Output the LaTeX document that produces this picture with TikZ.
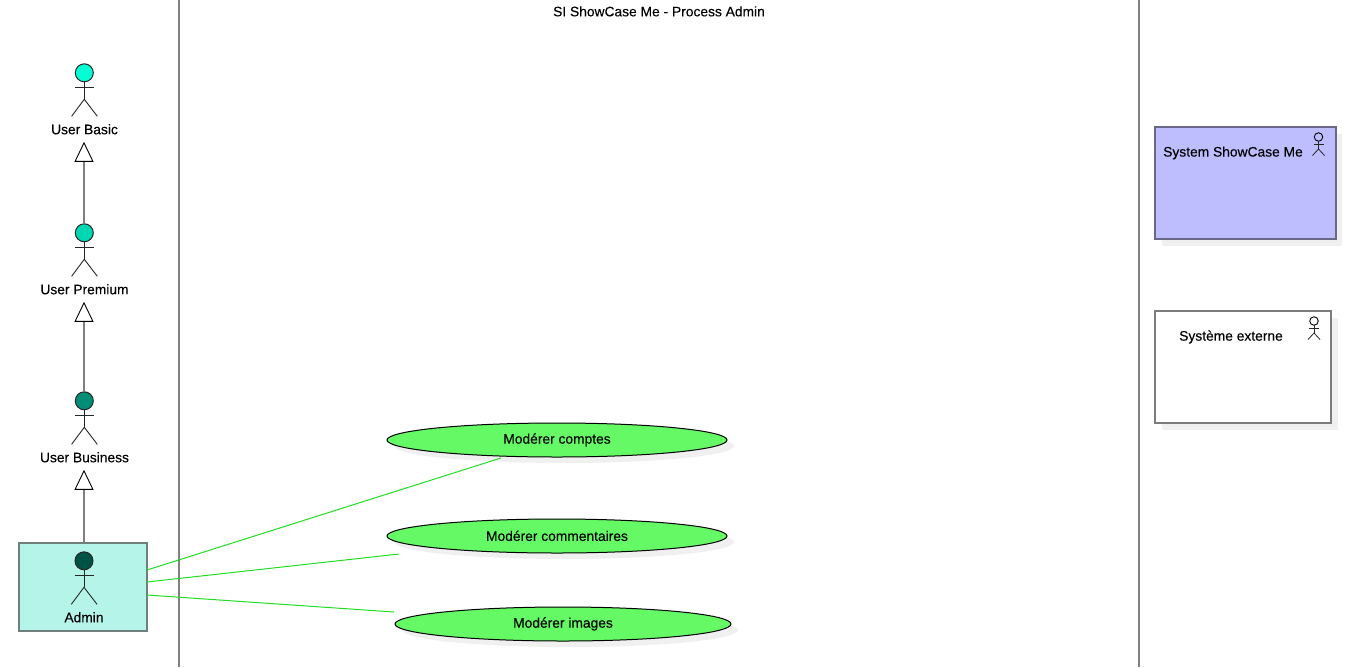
\documentclass[tikz,border=0pt]{standalone}
\usepackage{fontspec}
\setmainfont[FakeBold=0.15]{Liberation Sans}
\usetikzlibrary{arrows.meta,shapes.geometric}
\definecolor{laneC}{HTML}{808080}
\definecolor{shadowC}{HTML}{F0F0F0}
\definecolor{greenC}{HTML}{66F966}
\definecolor{lineG}{HTML}{22DD22}
\definecolor{adminBorder}{RGB}{111,127,123}
\definecolor{adminFill}{RGB}{181,245,233}
\definecolor{basicC}{RGB}{0,255,213}
\definecolor{premiumC}{RGB}{0,214,178}
\definecolor{businessC}{RGB}{0,140,117}
\definecolor{adminC}{RGB}{0,82,68}
\definecolor{sysBorder}{RGB}{105,105,135}
\definecolor{sysFill}{RGB}{190,190,255}
\definecolor{extBorder}{RGB}{125,125,125}
\tikzset{
  lane/.style={draw=laneC,line width=1.6pt},
  label/.style={font=\fontsize{13.8}{15}\selectfont,text=black,inner sep=0pt,align=center},
  head/.style={circle,draw=black!85,line width=1pt,minimum size=18pt,inner sep=0pt},
  limb/.style={draw=black!85,line width=0.9pt},
  smallhead/.style={circle,draw=black,line width=0.9pt,minimum size=8.5pt,inner sep=0pt,fill=none},
  usecase/.style={ellipse,draw=black,line width=1pt,fill=greenC,minimum height=34pt,inner sep=0pt,font=\fontsize{13.8}{15}\selectfont},
  shadowell/.style={ellipse,fill=shadowC,minimum height=34pt,inner sep=0pt},
  sysbox/.style={rectangle,draw=#1,line width=1.4pt,inner sep=0pt},
  inherit/.style={draw=laneC,line width=1.3pt,-{Triangle[length=20pt,width=19pt,fill=white,color=black,line width=0.9pt]}},
  assoc/.style={draw=lineG,line width=1pt},
}
\newcommand{\stickman}[4]{% name, x, head y, colour
  \node[head,fill=#4] (#1) at (#2,#3) {};
  \draw[limb] (#2-9.5,#3+14.8) -- (#2+9.5,#3+14.8);
  \draw[limb] (#2,#3+9) -- (#2,#3+26.5);
  \draw[limb] (#2-12.7,#3+43.5) -- (#2,#3+26.5) -- (#2+13,#3+43.5);
}
\newcommand{\tinyman}[3]{% name, x, head y
  \node[smallhead] (#1) at (#2,#3) {};
  \draw[limb,line width=0.8pt] (#2-5,#3+7) -- (#2+5,#3+7);
  \draw[limb,line width=0.8pt] (#2,#3+4.2) -- (#2,#3+12);
  \draw[limb,line width=0.8pt] (#2-6,#3+18.5) -- (#2,#3+12) -- (#2+6,#3+18.5);
}
\begin{document}
\begin{tikzpicture}[x=1pt,y=-1pt]
\useasboundingbox (0,0) rectangle (1348,667);
\fill[white] (0,0) rectangle (1348,667);
% swimlanes
\coordinate (laneAtop) at (179,0); \coordinate (laneAbot) at (179,667);
\coordinate (laneBtop) at (1139,0); \coordinate (laneBbot) at (1139,667);
\draw[lane] (laneAtop) -- (laneAbot);
\draw[lane] (laneBtop) -- (laneBbot);
\node[label] (title) at (659,11.4) {SI ShowCase Me - Process Admin};
% admin box
\node[rectangle,draw=adminBorder,line width=1.5pt,fill=adminFill,minimum width=128pt,minimum height=88pt,inner sep=0pt] (adminbox) at (83,587) {};
% actors
\stickman{basic}{84.3}{72.8}{basicC}
\node[label] (basicL) at (84.5,129.3) {User Basic};
\stickman{premium}{84.3}{232.8}{premiumC}
\node[label] (premiumL) at (84.5,289.3) {User Premium};
\stickman{business}{84.3}{400.8}{businessC}
\node[label] (businessL) at (84.5,457.3) {User Business};
\stickman{admin}{84}{560.8}{adminC}
\node[label] (adminL) at (84,617.3) {Admin};
% generalisations
\coordinate (g1) at (84,141.8); \coordinate (g2) at (84,301.8); \coordinate (g3) at (84,469.8);
\draw[inherit] (premium.north -| g1) -- (g1);
\draw[inherit] (business.north -| g2) -- (g2);
\draw[inherit] (adminbox.north -| g3) -- (g3);
% use cases
\node[shadowell,minimum width=340pt] at (564,446) {};
\node[shadowell,minimum width=340pt] at (564,542) {};
\node[shadowell,minimum width=336pt] at (570,630) {};
\node[usecase,minimum width=340pt] (uc1) at (557,440) {\raisebox{-0.8pt}{Modérer comptes}};
\node[usecase,minimum width=340pt] (uc2) at (557,536) {\raisebox{0.4pt}{Modérer commentaires}};
\node[usecase,minimum width=336pt] (uc3) at (563,624) {\raisebox{-0.8pt}{Modérer images}};
% associations
\coordinate (a1) at (147,570); \coordinate (e1) at (501,458);
\coordinate (a2) at (147,582); \coordinate (e2) at (399,554);
\coordinate (a3) at (147,595); \coordinate (e3) at (394,612);
\draw[assoc] (a1) -- (e1);
\draw[assoc] (a2) -- (e2);
\draw[assoc] (a3) -- (e3);
% external boxes
\fill[shadowC] (1162,134) rectangle (1342,245.5);
\node[sysbox=sysBorder,fill=sysFill,minimum width=181pt,minimum height=112pt] (sys) at (1245.5,183) {};
\node[label] (sysL) at (1233,153) {System ShowCase Me};
\tinyman{sysman}{1318.5}{137}
\fill[shadowC] (1162,318) rectangle (1338,429.5);
\node[sysbox=extBorder,fill=white,minimum width=176pt,minimum height=112pt] (ext) at (1243,367) {};
\node[label] (extL) at (1231,337) {Système externe};
\tinyman{extman}{1314}{321}
\end{tikzpicture}
\end{document}
